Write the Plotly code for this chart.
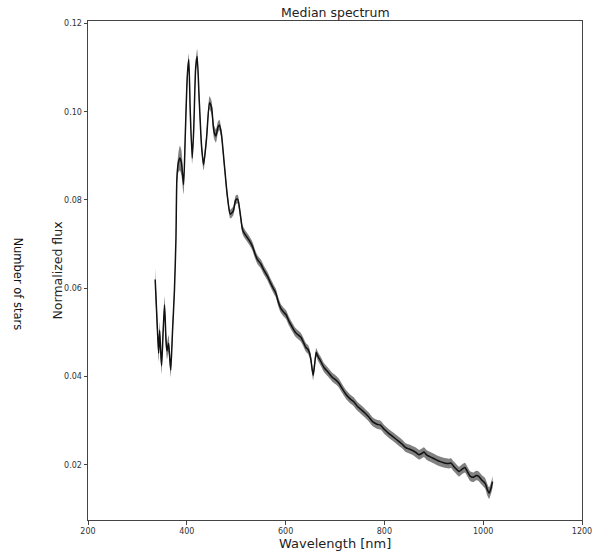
import plotly.graph_objects as go

wavelength = [336, 340, 343, 345, 347, 349, 352, 355, 358, 360, 363, 365, 367.5, 371, 375, 378,
              380, 383, 386, 389, 393.5, 397, 401, 404, 407, 411, 414, 418, 421, 425, 430, 434,
              440, 446, 450, 455, 459, 463, 466, 470, 476, 482, 488, 494, 499, 503, 508, 513,
              518, 526, 533, 538, 543, 550, 556, 563, 570, 575, 580, 585, 590, 596, 601, 607,
              614, 620, 626, 631, 636, 641, 645, 648, 651, 655.7, 659, 662, 665, 670, 678, 686,
              695, 702, 708, 715, 722, 730, 738, 745, 752, 760, 768, 776, 785, 792, 800, 808,
              816, 825, 835, 843, 850, 858, 865, 870, 876, 880, 886, 895, 904, 912, 920, 930,
              935, 940, 946, 951, 957, 963, 968, 974, 980, 986, 991, 997, 1004, 1008, 1012, 1016, 1019]

flux = [0.0620, 0.0520, 0.0453, 0.0505, 0.0460, 0.0425, 0.0500, 0.0562, 0.0480, 0.0458, 0.0475,
        0.0450, 0.0415, 0.0500, 0.0596, 0.0710, 0.0850, 0.0885, 0.0895, 0.0885, 0.0835, 0.0950,
        0.1080, 0.1118, 0.1000, 0.0895, 0.0960, 0.1100, 0.1125, 0.1030, 0.0920, 0.0880, 0.0940,
        0.1020, 0.1010, 0.0955, 0.0945, 0.0965, 0.0970, 0.0950, 0.0880, 0.0810, 0.0768, 0.0775,
        0.0800, 0.0802, 0.0770, 0.0732, 0.0722, 0.0709, 0.0695, 0.0678, 0.0665, 0.0655, 0.0641,
        0.0628, 0.0611, 0.0600, 0.0590, 0.0570, 0.0555, 0.0546, 0.0540, 0.0525, 0.0511, 0.0500,
        0.0494, 0.0489, 0.0478, 0.0466, 0.0462, 0.0455, 0.0440, 0.0403, 0.0430, 0.0455, 0.0447,
        0.0437, 0.0420, 0.0410, 0.0398, 0.0392, 0.0385, 0.0372, 0.0360, 0.0350, 0.0343, 0.0333,
        0.0326, 0.0318, 0.0309, 0.0298, 0.0292, 0.0290, 0.0280, 0.0272, 0.0265, 0.0257, 0.0248,
        0.0239, 0.0236, 0.0232, 0.0227, 0.0223, 0.0226, 0.0229, 0.0222, 0.0217, 0.0212, 0.0208,
        0.0205, 0.0203, 0.0204, 0.0197, 0.0190, 0.0185, 0.0190, 0.0194, 0.0185, 0.0174, 0.0172,
        0.0176, 0.0174, 0.0166, 0.0158, 0.0145, 0.0136, 0.0148, 0.0162]

flux_err = [0.0026, 0.0022, 0.0019, 0.0019, 0.0019, 0.0019, 0.0019, 0.0019, 0.0019, 0.0019, 0.0019,
            0.0019, 0.0016, 0.0015, 0.0013, 0.0013, 0.0015, 0.0022, 0.0028, 0.0028, 0.0022, 0.0015,
            0.0015, 0.0014, 0.0013, 0.0013, 0.0013, 0.0015, 0.0017, 0.0015, 0.0013, 0.0013, 0.0013,
            0.0015, 0.0015, 0.0015, 0.0015, 0.0013, 0.0012, 0.0011, 0.0010, 0.0010, 0.0010, 0.0010,
            0.0010, 0.0010, 0.0010, 0.0010, 0.0010, 0.0010, 0.0010, 0.0010, 0.0010, 0.0010, 0.0010,
            0.0010, 0.0010, 0.0010, 0.0010, 0.0010, 0.0010, 0.0010, 0.0010, 0.0010, 0.0010, 0.0010,
            0.0010, 0.0010, 0.0010, 0.0010, 0.0010, 0.0010, 0.0010, 0.0011, 0.0010, 0.0010, 0.0010,
            0.0010, 0.0010, 0.0010, 0.0010, 0.0010, 0.0010, 0.0010, 0.0010, 0.0010, 0.0010, 0.0010,
            0.0010, 0.0010, 0.0010, 0.0010, 0.0010, 0.0010, 0.0010, 0.0010, 0.0010, 0.0010, 0.0010,
            0.0010, 0.0010, 0.0010, 0.0011, 0.0011, 0.0011, 0.0011, 0.0011, 0.0011, 0.0011, 0.0011,
            0.0011, 0.0011, 0.0011, 0.0011, 0.0011, 0.0011, 0.0011, 0.0011, 0.0011, 0.0011, 0.0011,
            0.0011, 0.0011, 0.0011, 0.0012, 0.0013, 0.0013, 0.0013, 0.0013]

x_ticks = [200, 400, 600, 800, 1000, 1200]
y_ticks = [0.02, 0.04, 0.06, 0.08, 0.10, 0.12]

upper = [f + e for f, e in zip(flux, flux_err)]
lower = [f - e for f, e in zip(flux, flux_err)]

FONT = "DejaVu Sans"
fig = go.Figure()
fig.add_trace(go.Scatter(x=wavelength, y=lower, mode="lines", line=dict(width=0, shape="spline", smoothing=0.6),
                         showlegend=False, hoverinfo="skip"))
fig.add_trace(go.Scatter(x=wavelength, y=upper, mode="lines", line=dict(width=0, shape="spline", smoothing=0.6),
                         fill="tonexty", fillcolor="rgba(115,115,115,0.9)", showlegend=False, hoverinfo="skip"))
fig.add_trace(go.Scatter(x=wavelength, y=flux, mode="lines",
                         line=dict(color="#111111", width=1.5, shape="spline", smoothing=0.6),
                         showlegend=False))

axis_common = dict(showgrid=False, zeroline=False, showline=True, linecolor="#444444", linewidth=1,
                   mirror=True, ticks="outside", ticklen=3.5, tickcolor="#444444", automargin=False,
                   tickfont=dict(family=FONT, size=8, color="#333333"))
fig.update_xaxes(range=[200, 1200], tickvals=x_ticks, ticktext=[str(v) for v in x_ticks], **axis_common)
fig.update_yaxes(range=[0.00752, 0.12054], tickvals=y_ticks, ticktext=[f"{v:.2f}" for v in y_ticks], **axis_common)

fig.update_layout(
    width=593, height=552,
    margin=dict(l=88, r=11, t=21, b=32, autoexpand=False),
    paper_bgcolor="white", plot_bgcolor="white",
    font=dict(family=FONT, color="#222222"),
    annotations=[
        dict(text="Median spectrum", xref="paper", yref="paper", x=0.5, y=1, yshift=9,
             xanchor="center", yanchor="middle", showarrow=False, font=dict(size=12.5, family=FONT, color="#222222")),
        dict(text="Wavelength [nm]", xref="paper", yref="paper", x=0.5, y=0, yshift=-23,
             xanchor="center", yanchor="middle", showarrow=False, font=dict(size=13, family=FONT, color="#222222")),
        dict(text="Normalized flux", xref="paper", yref="paper", x=0, y=0.5, xshift=-31, textangle=-90,
             xanchor="center", yanchor="middle", showarrow=False, font=dict(size=12.5, family=FONT, color="#222222")),
        dict(text="Number of stars", xref="paper", yref="paper", x=0, y=0.474, xshift=-70, textangle=90,
             xanchor="center", yanchor="middle", showarrow=False, font=dict(size=11.5, family=FONT, color="#111111")),
    ],
)

fig.write_html("out.html")
